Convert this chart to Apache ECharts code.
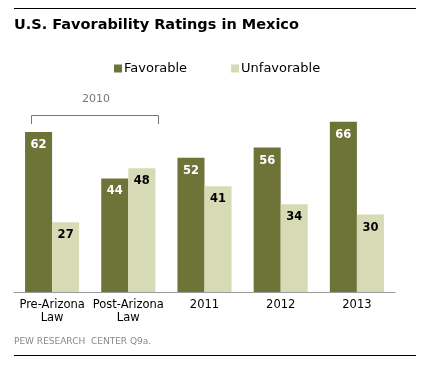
<!DOCTYPE html>
<html><head><meta charset="utf-8">
<script src="https://cdn.jsdelivr.net/npm/echarts@6/dist/echarts.min.js"></script>
<style>html,body{margin:0;padding:0;background:#fff}#c{width:441px;height:373px}</style>
</head><body><div id="c"></div>
<script>
const categories = ['Pre-Arizona\nLaw', 'Post-Arizona\nLaw', '2011', '2012', '2013'];
const favorable = [62, 44, 52, 56, 66];
const unfavorable = [27, 48, 41, 34, 30];
const seriesNames = ['Favorable', 'Unfavorable'];
const titleText = 'U.S. Favorability Ratings in Mexico';
const noteText = 'PEW RESEARCH  CENTER Q9a.';
const bracketText = '2010';

const FONT = '"DejaVu Sans", sans-serif';
const chart = echarts.init(document.getElementById('c'), null, {renderer: 'canvas'});
chart.setOption({
  animation: false,
  backgroundColor: '#fff',
  grid: {left: 14, right: 46, top: 111.4, bottom: 81, containLabel: false},
  legend: {
    data: seriesNames,
    top: 57, left: 109,
    itemWidth: 8, itemHeight: 8, itemGap: 44,
    icon: 'rect',
    textStyle: {fontFamily: FONT, fontSize: 13, color: '#000', padding: [0,0,0,-3]}
  },
  xAxis: {
    type: 'category', data: categories,
    axisLine: {lineStyle: {color: '#999', width: 1}},
    axisTick: {show: false},
    axisLabel: {fontFamily: FONT, fontSize: 11.5, color: '#000', margin: 7, lineHeight: 12.5, interval: 0}
  },
  yAxis: {type: 'value', min: 0, max: 70, show: false, splitLine: {show: false}},
  series: [
    {
      name: seriesNames[0], type: 'bar', data: favorable,
      barGap: '0%', barCategoryGap: '29%',
      itemStyle: {color: '#6e7438'},
      label: {show: true, position: 'insideTop', distance: 7, color: '#fff', fontWeight: 'bold', fontFamily: FONT, fontSize: 11.5}
    },
    {
      name: seriesNames[1], type: 'bar', data: unfavorable,
      itemStyle: {color: '#d7dbb5'},
      label: {show: true, position: 'insideTop', distance: 7, color: '#000', fontWeight: 'bold', fontFamily: FONT, fontSize: 11.5}
    }
  ],
  graphic: [
    {type: 'line', shape: {x1: 14, y1: 8.5, x2: 416, y2: 8.5}, style: {stroke: '#000', lineWidth: 1}},
    {type: 'text', left: 14, top: 18, style: {text: titleText, font: 'bold 14.5px "DejaVu Sans", sans-serif', fill: '#000'}},
    {type: 'text', left: 82, top: 94, style: {text: bracketText, font: '11px "DejaVu Sans", sans-serif', fill: '#777'}},
    {type: 'polyline', shape: {points: [[31.5, 124], [31.5, 115.5], [158.5, 115.5], [158.5, 124]]}, style: {stroke: '#777', lineWidth: 1, fill: null}},
    {type: 'text', left: 14, top: 337, style: {text: noteText, font: '9px "DejaVu Sans", sans-serif', fill: '#888'}},
    {type: 'line', shape: {x1: 14, y1: 355.5, x2: 416, y2: 355.5}, style: {stroke: '#000', lineWidth: 1}}
  ]
});
</script></body></html>
